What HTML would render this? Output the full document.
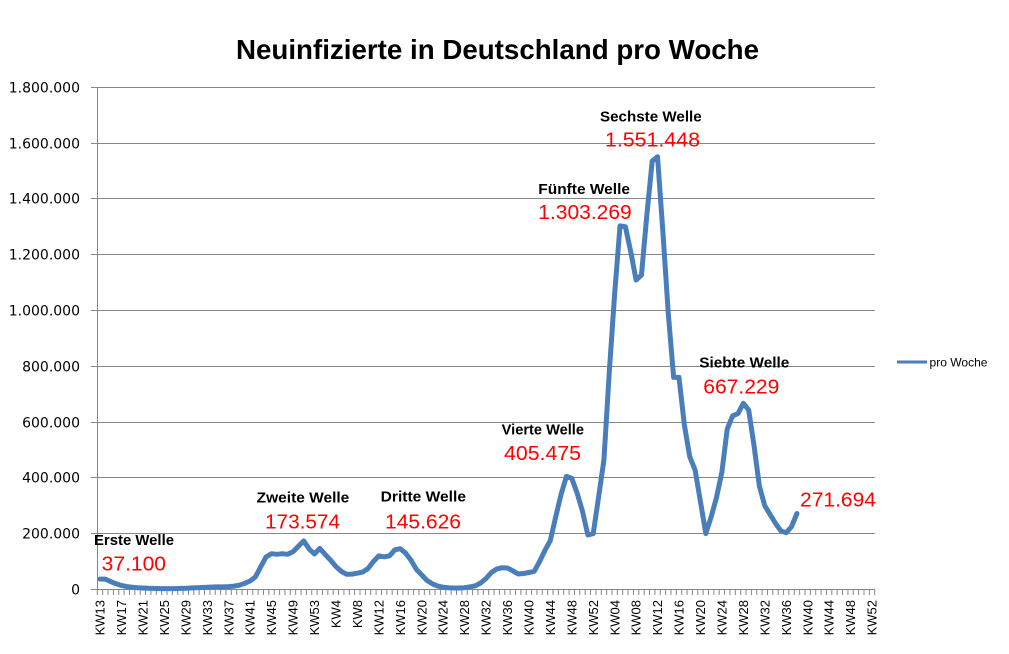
<!DOCTYPE html>
<html>
<head>
<meta charset="utf-8">
<style>
html,body{margin:0;padding:0;background:#fff;}
svg{display:block;}
</style>
</head>
<body>
<svg width="1009" height="654" viewBox="0 0 1009 654" xmlns="http://www.w3.org/2000/svg">
<rect x="0" y="0" width="1009" height="654" fill="#ffffff"/>

<!-- Title -->
<text x="236" y="59" font-family="'Liberation Sans', sans-serif" font-weight="bold" font-size="28" fill="#000" textLength="523" lengthAdjust="spacingAndGlyphs">Neuinfizierte in Deutschland pro Woche</text>

<!-- Gridlines -->
<g stroke="#868686" stroke-width="1" fill="none">
<line x1="91" y1="87.5" x2="875" y2="87.5"/>
<line x1="91" y1="143.5" x2="875" y2="143.5"/>
<line x1="91" y1="198.5" x2="875" y2="198.5"/>
<line x1="91" y1="254.5" x2="875" y2="254.5"/>
<line x1="91" y1="310.5" x2="875" y2="310.5"/>
<line x1="91" y1="366.5" x2="875" y2="366.5"/>
<line x1="91" y1="422.5" x2="875" y2="422.5"/>
<line x1="91" y1="477.5" x2="875" y2="477.5"/>
<line x1="91" y1="533.5" x2="875" y2="533.5"/>
<line x1="91" y1="589.5" x2="875" y2="589.5"/>
<!-- y axis -->
<line x1="97.5" y1="87" x2="97.5" y2="590"/>
<!-- x ticks -->
<line x1="96.8" y1="592.5" x2="875.3" y2="592.5" stroke-width="5" stroke-dasharray="1 4.3614"/>
</g>

<!-- Y labels -->
<g font-family="'DejaVu Sans', sans-serif" font-size="14" fill="#000" text-anchor="end">
<text x="80" y="594.5">0</text>
<text x="80" y="538.5">200.000</text>
<text x="80" y="482.5">400.000</text>
<text x="80" y="427.5">600.000</text>
<text x="80" y="371.5">800.000</text>
<text x="80" y="315.5">1.000.000</text>
<text x="80" y="259.5">1.200.000</text>
<text x="80" y="203.5">1.400.000</text>
<text x="80" y="148.5">1.600.000</text>
<text x="80" y="92.5">1.800.000</text>
</g>

<!-- X labels -->
<g font-family="'Liberation Sans', sans-serif" font-size="13" fill="#000" text-anchor="end">
<text transform="translate(104.6,600) rotate(-90)">KW13</text>
<text transform="translate(126.0,600) rotate(-90)">KW17</text>
<text transform="translate(147.5,600) rotate(-90)">KW21</text>
<text transform="translate(168.9,600) rotate(-90)">KW25</text>
<text transform="translate(190.4,600) rotate(-90)">KW29</text>
<text transform="translate(211.8,600) rotate(-90)">KW33</text>
<text transform="translate(233.3,600) rotate(-90)">KW37</text>
<text transform="translate(254.7,600) rotate(-90)">KW41</text>
<text transform="translate(276.2,600) rotate(-90)">KW45</text>
<text transform="translate(297.6,600) rotate(-90)">KW49</text>
<text transform="translate(319.0,600) rotate(-90)">KW53</text>
<text transform="translate(340.5,600) rotate(-90)">KW4</text>
<text transform="translate(361.9,600) rotate(-90)">KW8</text>
<text transform="translate(383.4,600) rotate(-90)">KW12</text>
<text transform="translate(404.8,600) rotate(-90)">KW16</text>
<text transform="translate(426.3,600) rotate(-90)">KW20</text>
<text transform="translate(447.7,600) rotate(-90)">KW24</text>
<text transform="translate(469.2,600) rotate(-90)">KW28</text>
<text transform="translate(490.6,600) rotate(-90)">KW32</text>
<text transform="translate(512.0,600) rotate(-90)">KW36</text>
<text transform="translate(533.5,600) rotate(-90)">KW40</text>
<text transform="translate(554.9,600) rotate(-90)">KW44</text>
<text transform="translate(576.4,600) rotate(-90)">KW48</text>
<text transform="translate(597.8,600) rotate(-90)">KW52</text>
<text transform="translate(619.3,600) rotate(-90)">KW04</text>
<text transform="translate(640.7,600) rotate(-90)">KW08</text>
<text transform="translate(662.1,600) rotate(-90)">KW12</text>
<text transform="translate(683.6,600) rotate(-90)">KW16</text>
<text transform="translate(705.0,600) rotate(-90)">KW20</text>
<text transform="translate(726.5,600) rotate(-90)">KW24</text>
<text transform="translate(747.9,600) rotate(-90)">KW28</text>
<text transform="translate(769.4,600) rotate(-90)">KW32</text>
<text transform="translate(790.8,600) rotate(-90)">KW36</text>
<text transform="translate(812.3,600) rotate(-90)">KW40</text>
<text transform="translate(833.7,600) rotate(-90)">KW44</text>
<text transform="translate(855.1,600) rotate(-90)">KW48</text>
<text transform="translate(876.6,600) rotate(-90)">KW52</text>
</g>

<!-- Series -->
<polyline fill="none" stroke="#4A7EBB" stroke-width="5" stroke-linejoin="round" stroke-linecap="round" points="
100,579.1 105.36,579.1 110.72,581.6 116.08,583.8 121.44,585.5 126.81,586.6 132.17,587.2 137.53,587.7 142.89,588.0 148.25,588.3
153.61,588.4 158.97,588.6 164.33,588.6 169.69,588.6 175.05,588.6 180.42,588.4 185.78,588.3 191.14,588.0 196.5,587.7 201.86,587.5
207.22,587.2 212.58,587.0 217.94,586.9 223.3,586.9 228.66,586.6 234.03,586.1 239.39,585.2 244.75,583.3 250.11,581.0 255.47,576.8
260.83,566.5 266.19,556.8 271.55,553.7 276.91,554.3 282.27,553.7 287.64,554.3 293.0,551.7 298.36,546.2 303.72,540.9 309.08,548.9
314.44,554.0 319.8,548.4 325.16,554.5 330.52,560.1 335.88,566.5 341.25,571.3 346.61,574.3 351.97,574.1 357.33,573.2 362.69,572.1
368.05,568.5 373.41,561.5 378.77,555.9 384.13,556.8 389.49,555.9 394.86,549.8 400.22,548.7 405.58,553.1 410.94,560.1 416.3,569.3
421.66,574.9 427.02,580.5 432.38,583.8 437.74,586.1 443.1,587.2 448.47,587.7 453.83,588.0 459.19,588.0 464.55,587.7 469.91,586.9
475.27,585.8 480.63,583.0 485.99,578.5 491.35,572.5 496.71,569.0 502.08,567.7 507.44,568.0 512.8,570.8 518.16,574.0 523.52,573.5
528.88,572.5 534.24,571.3 539.6,561.5 544.96,550.3 550.32,540.6 555.69,516.9 561.05,494.5 566.41,476.4 571.77,478.4 577.13,493.1
582.49,511.3 587.85,535.0 593.21,533.6 598.57,497.3 603.93,459.9 609.3,371.8 614.66,293.7 620.02,225.9 625.38,226.7 630.74,251.8
636.1,280.0 641.46,275.0 646.82,215.5 652.18,161.1 657.54,156.7 662.91,232.3 668.27,313.2 673.63,377.4 678.99,377.4 684.35,424.8
689.71,456.6 695.07,470.0 700.43,501.5 705.79,533.6 711.15,516.9 716.52,497.3 721.88,472.2 727.24,429.0 732.6,415.9 737.96,413.6
743.32,403.3 748.68,410.0 754.04,445.7 759.4,486.2 764.76,505.7 770.13,514.6 775.49,523.3 780.85,530.8 786.21,532.8 791.57,526.6
796.93,513.5"/>

<!-- Wave annotations -->
<g font-family="'Liberation Sans', sans-serif" font-weight="bold" font-size="14.5" fill="#000">
<text x="94" y="545" textLength="80" lengthAdjust="spacingAndGlyphs">Erste Welle</text>
<text x="256.7" y="502.7" textLength="92.6" lengthAdjust="spacingAndGlyphs">Zweite Welle</text>
<text x="380.7" y="501.7" textLength="85.3" lengthAdjust="spacingAndGlyphs">Dritte Welle</text>
<text x="501.7" y="434.3" textLength="82.3" lengthAdjust="spacingAndGlyphs">Vierte Welle</text>
<text x="538.3" y="194" textLength="91.7" lengthAdjust="spacingAndGlyphs">Fünfte Welle</text>
<text x="600" y="121.7" textLength="101.7" lengthAdjust="spacingAndGlyphs">Sechste Welle</text>
<text x="699.3" y="367.3" textLength="90" lengthAdjust="spacingAndGlyphs">Siebte Welle</text>
</g>
<g font-family="'Liberation Sans', sans-serif" font-size="20" fill="#FF0000">
<text x="101.7" y="570.5" textLength="64.3" lengthAdjust="spacingAndGlyphs">37.100</text>
<text x="265" y="528.3" textLength="75" lengthAdjust="spacingAndGlyphs">173.574</text>
<text x="385" y="528.3" textLength="76" lengthAdjust="spacingAndGlyphs">145.626</text>
<text x="504" y="460" textLength="77" lengthAdjust="spacingAndGlyphs">405.475</text>
<text x="538.3" y="219" textLength="93.4" lengthAdjust="spacingAndGlyphs">1.303.269</text>
<text x="605" y="146.7" textLength="95" lengthAdjust="spacingAndGlyphs">1.551.448</text>
<text x="703.3" y="393.3" textLength="76" lengthAdjust="spacingAndGlyphs">667.229</text>
<text x="800" y="506.7" textLength="76" lengthAdjust="spacingAndGlyphs">271.694</text>
</g>

<!-- Legend -->
<line x1="897" y1="362" x2="927" y2="362" stroke="#4A7EBB" stroke-width="3"/>
<text x="929.5" y="366.5" font-family="'Liberation Sans', sans-serif" font-size="12" fill="#000" textLength="58" lengthAdjust="spacingAndGlyphs">pro Woche</text>
</svg>
</body>
</html>
